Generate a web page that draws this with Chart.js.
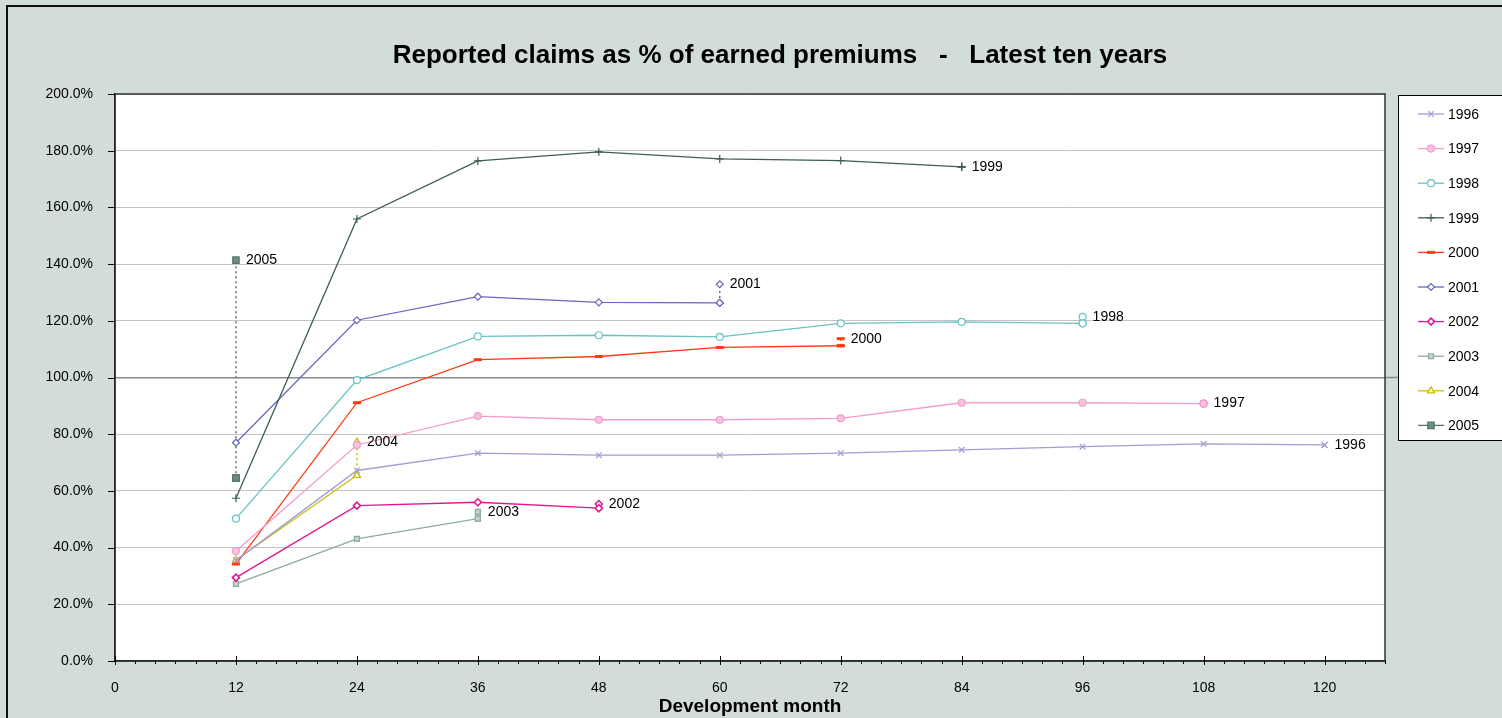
<!DOCTYPE html>
<html>
<head>
<meta charset="utf-8">
<script src="https://cdn.jsdelivr.net/npm/chart.js@4.4.1/dist/chart.umd.min.js"></script>
<style>
  body { margin: 0; background: #d3ddd8; }
  #wrap { width: 1502px; height: 718px; }
</style>
</head>
<body>
<div id="wrap"><canvas id="myChart" width="1502" height="718"></canvas></div>
<script>
// accident years and development months
const years = ['1996', '1997', '1998', '1999', '2000', '2001', '2002', '2003', '2004', '2005'];
const months = [12, 24, 36, 48, 60, 72, 84, 96, 108, 120];

// reported claims as % of earned premiums, per accident year
const y1996 = [35.5, 67.2, 73.3, 72.6, 72.6, 73.3, 74.5, 75.6, 76.6, 76.2];
const y1997 = [38.8, 76.2, 86.4, 85.1, 85.1, 85.6, 91.1, 91.1, 90.8];
const y1998 = [50.2, 99.1, 114.5, 114.9, 114.3, 119.1, 119.6, 119.1];
const y1999 = [57.4, 155.9, 176.4, 179.6, 177.1, 176.5, 174.3];
const y2000 = [34.2, 91.1, 106.3, 107.4, 110.6, 111.2];
const y2001 = [77.0, 120.2, 128.5, 126.5, 126.3];
const y2002 = [29.4, 54.8, 56.0, 53.9];
const y2003 = [27.2, 43.1, 50.2];
const y2004 = [35.6, 65.5];
const y2005 = [64.5];

// latest value at the last development month (dotted link + label)
const latest = [76.2, 90.8, 121.4, 174.3, 113.7, 132.9, 55.4, 52.6, 77.2, 141.4];

const yTicks = [0, 20, 40, 60, 80, 100, 120, 140, 160, 180, 200];

const series = [y1996, y1997, y1998, y1999, y2000, y2001, y2002, y2003, y2004, y2005];

const styles = [
    { color: '#a39dd4', fill: '#a39dd4', point: 'crossRot', r: 4, pw: 1.2 },
    { color: '#f29ccb', fill: '#f7c3df', point: 'circle', r: 3.5, pw: 1.2 },
    { color: '#68c3c3', fill: '#ffffff', point: 'circle', r: 3.5, pw: 1.2 },
    { color: '#3e5d52', fill: '#3e5d52', point: 'cross', r: 4, pw: 1.2 },
    { color: '#ff3a17', fill: '#ff3a17', point: 'line', r: 4, pw: 3 },
    { color: '#6a66be', fill: '#ffffff', point: 'rectRot', r: 3.5, pw: 1.2 },
    { color: '#e2168a', fill: '#ffffff', point: 'rectRot', r: 3.5, pw: 1.5 },
    { color: '#8eaaa0', fill: '#c4d4cd', point: 'rect', r: 3.5, pw: 1.2 },
    { color: '#c6bf08', fill: '#ffffff', point: 'triangle', r: 4, pw: 1.3 },
    { color: '#55756a', fill: '#6f8d82', point: 'rect', r: 4.5, pw: 1.2 }
];

const datasets = [];

// main lines
series.forEach((vals, i) => {
    const s = styles[i];
    datasets.push({
        label: years[i],
        data: vals.map((v, j) => ({ x: months[j], y: v })),
        borderColor: s.color,
        backgroundColor: s.fill,
        borderWidth: 1.3,
        pointStyle: s.point,
        pointRadius: s.r,
        pointBorderWidth: s.pw,
        pointBorderColor: s.color,
        pointBackgroundColor: s.fill,
        tension: 0
    });
});

// dotted link from last point to latest value
series.forEach((vals, i) => {
    const s = styles[i];
    const m = months[vals.length - 1];
    datasets.push({
        label: years[i] + ' latest',
        data: [{ x: m, y: vals[vals.length - 1] }, { x: m, y: latest[i] }],
        borderColor: s.color,
        backgroundColor: s.fill,
        borderWidth: 1.5,
        borderDash: [2, 3],
        pointStyle: s.point,
        pointRadius: s.r,
        pointBorderWidth: s.pw,
        pointBorderColor: s.color,
        pointBackgroundColor: s.fill
    });
});

const FONT = '"Liberation Sans", Arial, sans-serif';

const frame = {
    id: 'frame',
    beforeDraw(chart) {
        const ctx = chart.ctx;
        const a = chart.chartArea;
        ctx.save();
        ctx.fillStyle = '#d3ddd8';
        ctx.fillRect(0, 0, chart.width, chart.height);
        ctx.strokeStyle = '#111';
        ctx.lineWidth = 2;
        ctx.beginPath();
        ctx.moveTo(7, chart.height);
        ctx.lineTo(7, 6);
        ctx.lineTo(chart.width, 6);
        ctx.stroke();
        ctx.fillStyle = '#ffffff';
        ctx.fillRect(a.left, a.top, a.right - a.left, a.bottom - a.top);

        ctx.fillStyle = '#000';
        ctx.font = 'bold 26px ' + FONT;
        ctx.textAlign = 'center';
        ctx.textBaseline = 'middle';
        ctx.fillText('Reported claims as % of earned premiums   -   Latest ten years', 780, 56);
        ctx.restore();
    },
    afterDraw(chart) {
        const ctx = chart.ctx;
        const a = chart.chartArea;
        const xs = chart.scales.x;
        const ys = chart.scales.y;
        ctx.save();

        // 100% line runs on to the legend
        const y100 = ys.getPixelForValue(100);
        ctx.strokeStyle = '#8a8a8a';
        ctx.lineWidth = 1.5;
        ctx.beginPath();
        ctx.moveTo(a.right, y100);
        ctx.lineTo(1398, y100);
        ctx.stroke();

        // plot border
        ctx.strokeStyle = '#333';
        ctx.lineWidth = 1.5;
        ctx.strokeRect(a.left, a.top, a.right - a.left, a.bottom - a.top);

        // x tick marks: major every 12, minor every 2
        ctx.strokeStyle = '#000';
        ctx.lineWidth = 1;
        for (let m = 0; m <= 126; m += 2) {
            const px = Math.round(xs.getPixelForValue(m)) + 0.5;
            ctx.beginPath();
            if (m % 12 === 0) {
                ctx.moveTo(px, a.bottom - 5);
                ctx.lineTo(px, a.bottom + 4);
            } else {
                ctx.moveTo(px, a.bottom);
                ctx.lineTo(px, a.bottom + 3);
            }
            ctx.stroke();
        }
        // y tick marks
        yTicks.forEach(v => {
            const py = Math.round(ys.getPixelForValue(v)) + 0.5;
            ctx.beginPath();
            ctx.moveTo(a.left - 7, py);
            ctx.lineTo(a.left, py);
            ctx.stroke();
        });

        // year labels beside the latest points
        ctx.fillStyle = '#000';
        ctx.font = '14px ' + FONT;
        ctx.textAlign = 'left';
        ctx.textBaseline = 'middle';
        series.forEach((vals, i) => {
            const px = xs.getPixelForValue(months[vals.length - 1]);
            const py = ys.getPixelForValue(latest[i]);
            ctx.fillText(years[i], px + 10, py);
        });

        // legend
        const lx = 1398, ly = 95, lh = 345;
        ctx.fillStyle = '#ffffff';
        ctx.fillRect(lx, ly, chart.width - lx + 2, lh);
        ctx.strokeStyle = '#000';
        ctx.lineWidth = 1;
        ctx.strokeRect(lx + 0.5, ly + 0.5, chart.width - lx + 2, lh);
        ctx.font = '14px ' + FONT;
        years.forEach((yr, i) => {
            const s = styles[i];
            const yy = ly + 19 + i * 34.6;
            ctx.strokeStyle = s.color;
            ctx.lineWidth = 1.3;
            ctx.setLineDash([]);
            ctx.beginPath();
            ctx.moveTo(1418, yy);
            ctx.lineTo(1444, yy);
            ctx.stroke();
            ctx.fillStyle = s.fill;
            ctx.lineWidth = s.pw;
            Chart.helpers.drawPoint(ctx, { pointStyle: s.point, radius: s.r, rotation: 0, borderWidth: s.pw }, 1431, yy);
            ctx.fillStyle = '#000';
            ctx.fillText(yr, 1448, yy + 1);
        });
        ctx.restore();
    }
};

new Chart(document.getElementById('myChart').getContext('2d'), {
    type: 'line',
    data: { datasets: datasets },
    options: {
        responsive: false,
        animation: false,
        layout: { padding: { top: 94, left: 0, right: 117, bottom: 0 } },
        plugins: {
            legend: { display: false },
            title: { display: false },
            tooltip: { enabled: false }
        },
        scales: {
            x: {
                type: 'linear',
                min: 0,
                max: 126,
                afterFit: s => { s.height = 57; },
                grid: { display: false, drawTicks: false },
                border: { color: '#000', width: 1.5 },
                ticks: {
                    stepSize: 12,
                    includeBounds: false,
                    padding: 19,
                    maxRotation: 0,
                    color: '#000',
                    font: { family: FONT, size: 14 }
                },
                title: {
                    display: true,
                    text: 'Development month',
                    color: '#000',
                    font: { family: FONT, size: 19, weight: 'bold' },
                    padding: { top: 0, bottom: 0 }
                }
            },
            y: {
                min: 0,
                max: 200,
                afterFit: s => { s.width = 115; },
                afterBuildTicks: s => { s.ticks = yTicks.map(v => ({ value: v })); },
                grid: {
                    drawTicks: false,
                    color: c => c.tick && c.tick.value === 100 ? '#8a8a8a' : '#c4c4c4',
                    lineWidth: c => c.tick && c.tick.value === 100 ? 1.5 : 1
                },
                border: { color: '#000', width: 1.5 },
                ticks: {
                    padding: 22,
                    color: '#000',
                    font: { family: FONT, size: 14 },
                    callback: v => v.toFixed(1) + '%'
                }
            }
        }
    },
    plugins: [frame]
});
</script>
</body>
</html>
